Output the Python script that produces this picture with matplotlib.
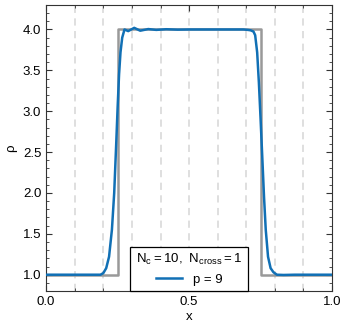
import matplotlib
matplotlib.use("Agg")
import matplotlib.pyplot as plt
from matplotlib.ticker import MultipleLocator

# exact step profile
x_exact = [0.0, 0.25, 0.25, 0.75, 0.75, 1.0]
rho_exact = [1.0, 1.0, 4.0, 4.0, 1.0, 1.0]

# numerical solution, p = 9
x_num = [0.0, 0.10, 0.17, 0.19, 0.200, 0.210, 0.220, 0.230, 0.238, 0.245, 0.250,
         0.255, 0.260, 0.266, 0.274, 0.287, 0.308, 0.329, 0.357, 0.385, 0.42,
         0.46, 0.50, 0.55, 0.60, 0.65, 0.69, 0.705, 0.715, 0.725, 0.731,
         0.738, 0.744, 0.750, 0.757, 0.762, 0.768, 0.776, 0.785, 0.795,
         0.807, 0.83, 0.87, 0.92, 1.0]
rho_num = [1.0, 1.0, 1.0, 1.0, 1.02, 1.08, 1.22, 1.55, 2.0, 2.6, 3.05,
           3.45, 3.72, 3.9, 4.0, 3.98, 4.02, 3.985, 4.005, 3.995, 4.003,
           3.998, 4.0, 4.0, 4.0, 4.0, 4.0, 3.995, 3.99, 3.975, 3.93,
           3.72, 3.35, 2.9, 2.35, 1.95, 1.55, 1.22, 1.08, 1.03,
           1.0, 0.997, 1.0, 1.0, 1.0]

grid_x = [0.1, 0.2, 0.3, 0.4, 0.5, 0.6, 0.7, 0.8, 0.9]

plt.rcParams["font.family"] = ["Liberation Sans", "DejaVu Sans"]
plt.rcParams["font.size"] = 9.5

fig, ax = plt.subplots(figsize=(3.47, 3.30), dpi=100)
fig.subplots_adjust(left=0.133, right=0.957, top=0.985, bottom=0.118)

for gx in grid_x:
    ax.axvline(gx, color="#dcdcdc", lw=1.3, ls=(0, (4, 3)), zorder=0)

ax.plot(x_exact, rho_exact, color="#999999", lw=1.8, zorder=2)
ax.plot(x_num, rho_num, color="#1170b5", lw=1.8, label="p = 9", zorder=3)

ax.set_xlim(0, 1)
ax.set_ylim(0.8, 4.3)
ax.xaxis.set_major_locator(MultipleLocator(0.5))
ax.xaxis.set_minor_locator(MultipleLocator(0.1))
ax.yaxis.set_major_locator(MultipleLocator(0.5))
ax.yaxis.set_minor_locator(MultipleLocator(0.1))
ax.tick_params(which="both", direction="in", top=True, right=True, color="#333333")
ax.tick_params(which="major", length=4)
ax.tick_params(which="minor", length=2.5)
for s in ax.spines.values():
    s.set_color("#333333")

ax.set_xlabel("x", labelpad=2)
ax.set_ylabel("ρ")

leg = ax.legend(loc="lower center", borderaxespad=0, fancybox=False,
                edgecolor="black", framealpha=1,
                title=r"$\mathregular{N_c = 10,\ N_{cross} = 1}$",
                title_fontsize=9.5, fontsize=9.5, handlelength=2.0)
leg.get_frame().set_linewidth(0.9)

plt.savefig("out.png", dpi=100)
